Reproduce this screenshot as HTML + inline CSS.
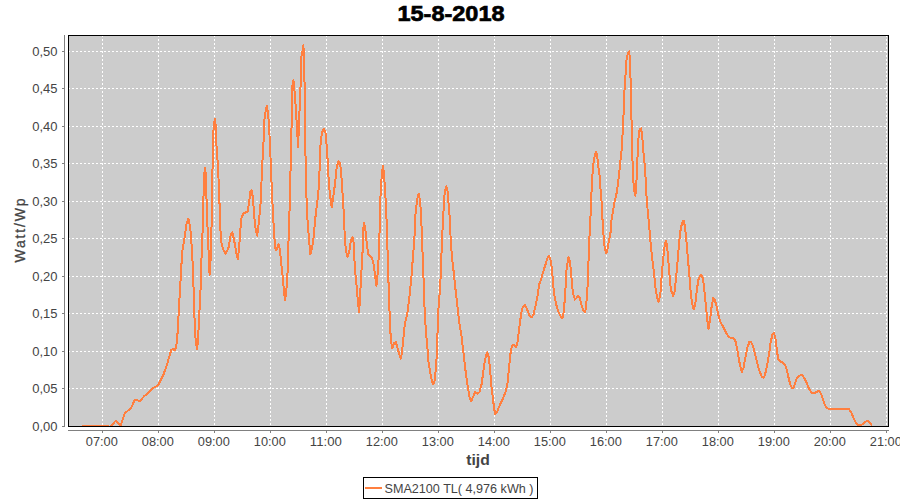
<!DOCTYPE html><html><head><meta charset="utf-8"><style>html,body{margin:0;padding:0;background:#fff;width:900px;height:500px;overflow:hidden}svg{display:block}text{font-family:"Liberation Sans",sans-serif}</style></head><body><svg width="900" height="500" viewBox="0 0 900 500"><rect x="0" y="0" width="900" height="500" fill="#fff"/><rect x="68" y="35" width="820" height="391" fill="#cccccc"/><g stroke="#ffffff" stroke-width="1" stroke-dasharray="2 2" shape-rendering="crispEdges"><line x1="102.5" y1="35" x2="102.5" y2="426"/><line x1="158.5" y1="35" x2="158.5" y2="426"/><line x1="214.5" y1="35" x2="214.5" y2="426"/><line x1="270.5" y1="35" x2="270.5" y2="426"/><line x1="326.5" y1="35" x2="326.5" y2="426"/><line x1="382.5" y1="35" x2="382.5" y2="426"/><line x1="438.5" y1="35" x2="438.5" y2="426"/><line x1="494.5" y1="35" x2="494.5" y2="426"/><line x1="550.5" y1="35" x2="550.5" y2="426"/><line x1="606.5" y1="35" x2="606.5" y2="426"/><line x1="662.5" y1="35" x2="662.5" y2="426"/><line x1="718.5" y1="35" x2="718.5" y2="426"/><line x1="774.5" y1="35" x2="774.5" y2="426"/><line x1="830.5" y1="35" x2="830.5" y2="426"/><line x1="886.5" y1="35" x2="886.5" y2="426"/><line x1="68" y1="388.5" x2="888" y2="388.5"/><line x1="68" y1="351.5" x2="888" y2="351.5"/><line x1="68" y1="313.5" x2="888" y2="313.5"/><line x1="68" y1="276.5" x2="888" y2="276.5"/><line x1="68" y1="238.5" x2="888" y2="238.5"/><line x1="68" y1="201.5" x2="888" y2="201.5"/><line x1="68" y1="163.5" x2="888" y2="163.5"/><line x1="68" y1="126.5" x2="888" y2="126.5"/><line x1="68" y1="88.5" x2="888" y2="88.5"/><line x1="68" y1="51.5" x2="888" y2="51.5"/></g><defs><clipPath id="c"><rect x="68" y="35" width="821" height="392"/></clipPath></defs><path clip-path="url(#c)" d="M81.6,426 L109,426 M110.5,426.0 L111.4,425.5 L116.0,420.4 L120.6,425.8 L124.8,413.0 L127.8,410.8 L130.5,408.7 L132.6,404.8 L134.5,400.0 L137.0,400.3 L140.1,400.9 L141.6,399.1 L143.4,397.0 L144.6,395.8 L147.0,394.0 L149.4,391.9 L152.4,388.6 L155.4,386.8 L158.2,385.2 L160.0,381.8 L163.2,375.2 L165.6,368.8 L167.6,362.4 L169.2,357.0 L171.4,349.6 L173.2,349.3 L175.0,350.2 L176.3,345.7 L177.2,338.5 L178.1,324.0 L179.0,306.0 L179.9,291.6 L180.8,275.4 L181.6,262.0 L182.5,250.0 L184.2,240.0 L185.5,231.0 L186.5,224.0 L188.3,218.5 L190.0,226.0 L191.0,236.0 L192.0,252.0 L193.0,270.0 L193.8,297.0 L194.5,318.0 L195.3,336.0 L196.3,345.0 L197.0,349.0 L197.9,342.0 L198.8,324.0 L199.7,306.0 L200.6,288.0 L201.0,270.0 L201.5,258.0 L202.3,240.0 L202.8,222.0 L203.4,200.0 L203.8,185.0 L204.5,172.0 L205.2,168.0 L205.8,175.0 L206.4,195.0 L207.0,215.0 L207.8,234.0 L208.5,250.0 L209.2,265.0 L209.6,274.7 L210.5,262.0 L211.2,240.0 L211.8,215.0 L212.3,180.0 L212.8,153.0 L213.6,127.0 L214.5,121.0 L215.0,119.0 L215.6,125.0 L216.2,141.0 L217.0,153.0 L218.0,167.0 L218.8,185.0 L219.4,200.0 L220.2,225.0 L221.0,240.6 L223.2,249.4 L225.8,253.8 L228.7,247.2 L230.9,234.0 L232.4,232.2 L234.6,242.8 L236.4,253.8 L238.0,259.3 L239.7,240.0 L241.1,219.0 L243.3,213.7 L245.5,212.6 L247.7,211.5 L249.2,201.6 L250.5,191.0 L251.5,190.0 L252.8,197.0 L254.3,217.0 L255.8,230.2 L257.2,235.7 L258.7,223.6 L260.2,208.2 L260.8,200.0 L262.0,169.0 L263.4,145.0 L264.6,117.0 L266.0,109.0 L266.8,106.0 L268.0,113.0 L269.0,125.0 L270.0,145.0 L271.4,179.0 L272.3,200.0 L273.0,212.6 L274.1,234.6 L275.6,250.0 L277.0,249.0 L278.5,244.5 L280.0,250.0 L281.4,265.4 L282.9,278.6 L284.0,291.8 L285.1,300.6 L286.6,287.4 L288.0,265.4 L288.8,228.0 L290.2,195.0 L290.6,165.0 L291.2,144.0 L291.9,109.0 L292.6,81.2 L293.4,80.4 L294.2,86.0 L295.0,98.7 L295.6,105.0 L296.5,120.2 L297.5,137.0 L298.2,146.8 L298.9,123.0 L299.6,109.0 L300.3,95.0 L300.9,71.6 L301.4,57.0 L302.5,50.8 L303.4,45.2 L304.1,62.0 L304.6,86.0 L305.2,124.4 L305.6,165.0 L306.4,195.0 L307.1,214.8 L308.6,234.6 L310.0,251.0 L310.4,254.4 L312.2,246.7 L313.7,236.8 L315.2,219.2 L317.0,203.8 L318.3,195.0 L319.2,175.0 L320.0,165.0 L320.6,141.2 L322.0,132.8 L324.0,128.6 L325.5,132.8 L326.5,144.0 L327.3,153.8 L327.9,167.0 L329.0,184.6 L330.1,195.6 L331.8,207.5 L333.4,195.6 L335.2,182.4 L336.7,167.0 L338.5,161.5 L340.0,162.6 L341.1,171.4 L342.2,189.0 L343.3,204.4 L344.4,228.6 L345.5,246.2 L346.6,254.0 L347.7,256.8 L349.6,249.6 L351.0,239.6 L352.5,237.4 L353.9,244.0 L354.4,259.2 L355.6,276.0 L356.8,288.0 L358.0,302.4 L359.2,312.0 L360.4,290.4 L361.6,268.8 L362.8,247.2 L363.1,230.0 L364.2,223.1 L365.3,228.6 L366.8,244.0 L368.3,254.4 L370.0,256.3 L371.7,257.3 L373.6,264.0 L375.5,278.4 L376.5,285.6 L377.7,273.6 L378.9,254.4 L379.6,230.0 L380.7,189.0 L382.2,171.4 L383.1,165.9 L384.4,180.2 L385.8,202.2 L386.9,228.6 L387.5,250.0 L388.7,288.0 L389.9,321.6 L390.9,340.8 L392.3,348.0 L394.0,343.2 L395.7,342.0 L397.6,348.0 L399.5,355.2 L400.7,358.8 L401.9,352.8 L402.9,343.2 L404.8,324.0 L407.2,314.4 L409.6,295.2 L411.5,276.0 L412.8,258.6 L414.3,241.0 L415.4,214.6 L417.2,199.2 L418.7,193.7 L420.2,201.4 L420.9,214.6 L422.0,234.4 L422.7,258.6 L423.8,285.0 L424.5,307.2 L425.9,331.2 L427.6,350.4 L428.4,361.3 L430.7,375.3 L432.6,383.7 L433.2,384.3 L434.6,381.0 L436.3,364.1 L437.4,336.0 L438.5,308.0 L440.3,285.0 L441.1,263.0 L442.2,236.6 L443.3,214.6 L444.7,192.6 L446.2,186.4 L447.3,188.2 L448.4,201.4 L449.5,214.6 L451.0,245.4 L452.4,260.8 L453.9,274.0 L455.0,285.0 L457.0,302.4 L459.2,322.0 L461.5,336.0 L463.5,352.9 L465.4,369.7 L467.7,386.5 L469.9,399.1 L471.3,401.1 L473.3,396.3 L475.2,392.1 L477.5,393.5 L479.4,392.1 L481.7,383.7 L483.9,366.9 L485.9,355.7 L487.3,352.3 L488.7,357.1 L490.1,369.7 L491.5,386.5 L493.5,403.4 L495.1,414.6 L497.1,411.8 L499.9,404.8 L502.7,399.1 L505.5,392.1 L507.5,383.7 L509.0,368.4 L510.4,354.3 L511.8,345.9 L514.1,344.5 L516.0,347.3 L517.4,343.1 L518.8,331.9 L520.2,320.7 L521.6,310.9 L523.0,306.7 L525.0,305.3 L527.2,309.5 L529.2,315.1 L531.4,317.3 L533.4,315.1 L535.7,305.3 L537.6,295.5 L539.3,284.2 L541.3,278.6 L543.2,271.6 L545.5,264.6 L547.7,257.6 L549.1,255.7 L551.1,261.8 L552.5,275.8 L553.9,292.7 L556.1,303.9 L558.1,310.9 L560.0,315.1 L562.3,318.5 L563.7,312.3 L565.1,295.5 L566.5,270.2 L568.5,256.8 L570.1,261.8 L571.3,275.8 L572.9,292.7 L574.9,299.7 L576.8,297.6 L578.2,295.8 L579.5,297.6 L580.8,302.1 L582.2,307.5 L583.6,311.1 L584.9,312.0 L585.8,309.3 L586.7,298.5 L587.3,291.3 L588.0,276.8 L588.7,255.2 L589.4,239.0 L589.8,230.0 L590.9,208.5 L591.8,185.0 L592.7,170.6 L593.9,159.8 L595.2,153.5 L596.1,151.7 L597.0,154.4 L598.4,167.0 L599.7,176.0 L600.6,190.5 L601.7,203.0 L602.4,217.5 L603.1,230.0 L603.8,239.0 L604.7,248.0 L606.0,253.4 L607.1,251.6 L608.3,244.4 L609.6,237.2 L611.0,230.0 L611.4,221.0 L612.8,212.0 L614.3,203.0 L615.5,197.7 L616.8,192.3 L618.2,181.4 L619.7,168.8 L620.9,156.2 L622.2,145.4 L622.8,126.0 L623.9,109.1 L624.5,90.2 L625.6,73.5 L626.6,58.8 L628.1,52.5 L629.1,51.4 L630.2,60.9 L630.6,81.9 L631.2,111.2 L631.9,130.1 L632.3,154.4 L633.0,176.0 L634.1,190.5 L635.4,195.9 L636.3,185.0 L637.2,163.4 L638.1,145.4 L638.6,136.0 L639.6,129.1 L641.1,128.4 L641.9,134.3 L642.8,142.7 L643.5,152.6 L644.9,167.0 L645.8,181.4 L646.7,199.5 L648.0,213.9 L649.3,227.0 L650.8,245.0 L652.3,259.5 L653.9,272.0 L655.5,288.0 L657.1,298.0 L658.6,302.0 L660.4,293.6 L661.7,276.0 L663.0,260.6 L664.4,247.4 L665.9,240.8 L667.0,245.2 L668.1,258.4 L669.2,271.6 L670.3,284.8 L671.4,291.4 L673.2,295.8 L674.7,291.4 L676.2,276.0 L677.6,260.6 L679.1,243.0 L680.2,232.0 L682.0,223.2 L683.5,220.6 L685.0,226.5 L686.4,240.8 L687.9,258.4 L689.4,276.0 L690.8,293.6 L692.3,304.6 L693.8,309.4 L695.2,304.6 L696.7,291.4 L698.2,280.4 L700.0,276.0 L701.5,274.9 L702.9,278.2 L704.0,287.0 L705.1,298.0 L706.0,306.0 L707.0,317.0 L708.4,329.1 L709.9,321.4 L711.4,308.2 L713.2,298.3 L714.7,299.4 L716.5,306.0 L718.3,314.8 L720.2,321.4 L722.0,324.7 L724.2,329.1 L726.4,333.5 L728.6,336.8 L730.8,337.9 L733.0,337.9 L735.2,340.1 L737.0,347.8 L738.5,356.6 L740.0,365.4 L741.8,372.0 L743.6,367.6 L745.1,358.8 L747.3,347.8 L749.5,341.6 L751.0,341.6 L752.8,345.6 L754.6,352.2 L756.8,361.0 L759.0,369.8 L761.6,376.4 L763.4,377.5 L764.9,375.3 L767.1,365.4 L769.3,352.2 L770.8,341.2 L772.6,334.2 L774.1,332.8 L775.5,339.0 L776.6,347.8 L778.1,358.8 L779.6,361.0 L781.8,362.1 L784.5,364.0 L786.0,367.0 L787.5,373.0 L789.0,379.8 L790.5,385.0 L792.0,388.0 L793.5,387.7 L795.0,383.5 L796.8,378.3 L798.8,376.0 L801.8,374.8 L804.0,377.5 L806.3,382.0 L808.5,387.3 L810.8,391.8 L812.3,393.0 L814.5,393.0 L816.8,391.8 L819.0,391.0 L820.8,393.3 L822.8,398.5 L824.7,404.5 L826.5,407.5 L828.8,409.0 L849.0,409.0 L851.3,412.8 L853.5,418.0 L855.8,422.5 L858.0,425.2 L860.3,425.5 L862.5,424.3 L864.8,422.5 L867.3,420.6 L869.6,422.5 L871.8,425.5" fill="none" stroke="#ff7f3f" stroke-width="2" stroke-linejoin="round" stroke-linecap="butt" shape-rendering="crispEdges"/><rect x="68.5" y="35.5" width="820" height="391" fill="none" stroke="#000" stroke-width="1" shape-rendering="crispEdges"/><g stroke="#808080" stroke-width="1" shape-rendering="crispEdges"><line x1="64.5" y1="35" x2="64.5" y2="427"/><line x1="62" y1="426.5" x2="64" y2="426.5"/><line x1="62" y1="388.5" x2="64" y2="388.5"/><line x1="62" y1="351.5" x2="64" y2="351.5"/><line x1="62" y1="313.5" x2="64" y2="313.5"/><line x1="62" y1="276.5" x2="64" y2="276.5"/><line x1="62" y1="238.5" x2="64" y2="238.5"/><line x1="62" y1="201.5" x2="64" y2="201.5"/><line x1="62" y1="163.5" x2="64" y2="163.5"/><line x1="62" y1="126.5" x2="64" y2="126.5"/><line x1="62" y1="88.5" x2="64" y2="88.5"/><line x1="62" y1="51.5" x2="64" y2="51.5"/><line x1="68" y1="430.5" x2="889" y2="430.5"/><line x1="102.5" y1="431" x2="102.5" y2="433"/><line x1="158.5" y1="431" x2="158.5" y2="433"/><line x1="214.5" y1="431" x2="214.5" y2="433"/><line x1="270.5" y1="431" x2="270.5" y2="433"/><line x1="326.5" y1="431" x2="326.5" y2="433"/><line x1="382.5" y1="431" x2="382.5" y2="433"/><line x1="438.5" y1="431" x2="438.5" y2="433"/><line x1="494.5" y1="431" x2="494.5" y2="433"/><line x1="550.5" y1="431" x2="550.5" y2="433"/><line x1="606.5" y1="431" x2="606.5" y2="433"/><line x1="662.5" y1="431" x2="662.5" y2="433"/><line x1="718.5" y1="431" x2="718.5" y2="433"/><line x1="774.5" y1="431" x2="774.5" y2="433"/><line x1="830.5" y1="431" x2="830.5" y2="433"/><line x1="886.5" y1="431" x2="886.5" y2="433"/></g><g fill="#444444" font-size="12" text-anchor="end"><text x="57.5" y="431" textLength="25.3" lengthAdjust="spacingAndGlyphs">0,00</text><text x="57.5" y="393" textLength="25.3" lengthAdjust="spacingAndGlyphs">0,05</text><text x="57.5" y="356" textLength="25.3" lengthAdjust="spacingAndGlyphs">0,10</text><text x="57.5" y="318" textLength="25.3" lengthAdjust="spacingAndGlyphs">0,15</text><text x="57.5" y="281" textLength="25.3" lengthAdjust="spacingAndGlyphs">0,20</text><text x="57.5" y="243" textLength="25.3" lengthAdjust="spacingAndGlyphs">0,25</text><text x="57.5" y="206" textLength="25.3" lengthAdjust="spacingAndGlyphs">0,30</text><text x="57.5" y="168" textLength="25.3" lengthAdjust="spacingAndGlyphs">0,35</text><text x="57.5" y="131" textLength="25.3" lengthAdjust="spacingAndGlyphs">0,40</text><text x="57.5" y="93" textLength="25.3" lengthAdjust="spacingAndGlyphs">0,45</text><text x="57.5" y="56" textLength="25.3" lengthAdjust="spacingAndGlyphs">0,50</text></g><g fill="#444444" font-size="12" text-anchor="middle"><text x="101.8" y="446" textLength="32" lengthAdjust="spacingAndGlyphs">07:00</text><text x="157.8" y="446" textLength="32" lengthAdjust="spacingAndGlyphs">08:00</text><text x="213.8" y="446" textLength="32" lengthAdjust="spacingAndGlyphs">09:00</text><text x="269.8" y="446" textLength="32" lengthAdjust="spacingAndGlyphs">10:00</text><text x="325.8" y="446" textLength="32" lengthAdjust="spacingAndGlyphs">11:00</text><text x="381.8" y="446" textLength="32" lengthAdjust="spacingAndGlyphs">12:00</text><text x="437.8" y="446" textLength="32" lengthAdjust="spacingAndGlyphs">13:00</text><text x="493.8" y="446" textLength="32" lengthAdjust="spacingAndGlyphs">14:00</text><text x="549.8" y="446" textLength="32" lengthAdjust="spacingAndGlyphs">15:00</text><text x="605.8" y="446" textLength="32" lengthAdjust="spacingAndGlyphs">16:00</text><text x="661.8" y="446" textLength="32" lengthAdjust="spacingAndGlyphs">17:00</text><text x="717.8" y="446" textLength="32" lengthAdjust="spacingAndGlyphs">18:00</text><text x="773.8" y="446" textLength="32" lengthAdjust="spacingAndGlyphs">19:00</text><text x="829.8" y="446" textLength="32" lengthAdjust="spacingAndGlyphs">20:00</text><text x="885.8" y="446" textLength="32" lengthAdjust="spacingAndGlyphs">21:00</text></g><text x="478" y="464.5" font-size="14" font-weight="bold" fill="#444444" text-anchor="middle" textLength="23.5" lengthAdjust="spacingAndGlyphs">tijd</text><text transform="translate(25,230.5) rotate(-90)" font-size="14" fill="#444444" stroke="#444444" stroke-width="0.3" text-anchor="middle" textLength="64" lengthAdjust="spacing">Watt/Wp</text><text x="451" y="21" font-size="22" font-weight="bold" fill="#000" stroke="#000" stroke-width="0.7" text-anchor="middle" textLength="107" lengthAdjust="spacingAndGlyphs">15-8-2018</text><rect x="363.5" y="477.5" width="174" height="21" fill="#fff" stroke="#000" stroke-width="1" shape-rendering="crispEdges"/><rect x="365" y="487" width="17" height="2" fill="#ff7f3f"/><text x="384.5" y="493" font-size="12" fill="#444444" textLength="149" lengthAdjust="spacingAndGlyphs">SMA2100 TL( 4,976 kWh )</text></svg></body></html>
